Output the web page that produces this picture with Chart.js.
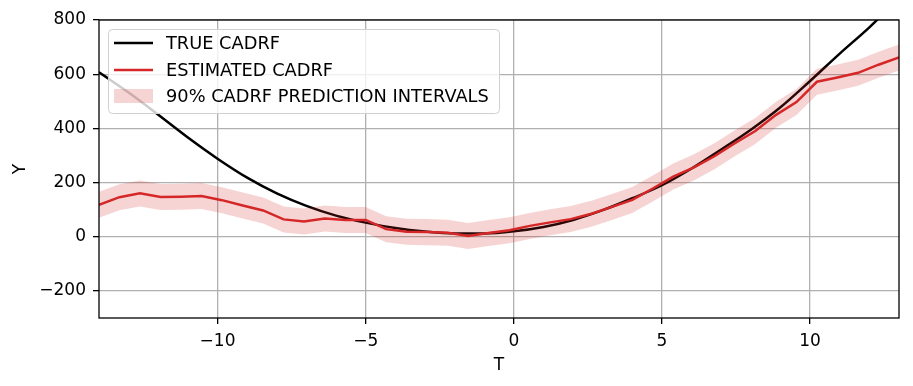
<!DOCTYPE html>
<html>
<head>
<meta charset="utf-8">
<script src="https://cdn.jsdelivr.net/npm/chart.js@4/dist/chart.umd.min.js"></script>
<style>
  html, body { margin: 0; padding: 0; background: #fff; }
  #box { width: 913px; height: 386px; }
</style>
</head>
<body>
<div id="box"><canvas id="chart"></canvas></div>
<script>
// grid of T where the estimate was evaluated (40 points, -14 .. 13)
const tGrid = [-14.00, -13.31, -12.62, -11.92, -11.23, -10.54, -9.85, -9.15, -8.46, -7.77,
  -7.08, -6.38, -5.69, -5.00, -4.31, -3.62, -2.92, -2.23, -1.54, -0.85,
  -0.15, 0.54, 1.23, 1.92, 2.62, 3.31, 4.00, 4.69, 5.38, 6.08,
  6.77, 7.46, 8.15, 8.85, 9.54, 10.23, 10.92, 11.62, 12.31, 13.00];
const estY = [118, 146, 160, 147, 148, 150, 135, 115, 97, 64,
  56, 67, 62, 62, 28, 18, 17, 15, 3, 14,
  24, 40, 53, 65, 85, 110, 136, 178, 222, 256,
  297, 345, 390, 450, 497, 572, 588, 605, 635, 662];
const bandUpper = [166, 194, 208, 195, 196, 198, 183, 163, 145, 112,
  104, 115, 110, 110, 76, 66, 65, 63, 51, 62,
  72, 88, 101, 113, 133, 158, 184, 226, 270, 304,
  345, 393, 438, 498, 545, 620, 636, 653, 683, 710];
const bandLower = [70, 98, 112, 99, 100, 102, 87, 67, 49, 16,
  8, 19, 14, 14, -20, -30, -31, -33, -45, -34,
  -24, -8, 5, 17, 37, 62, 88, 130, 174, 208,
  249, 297, 342, 402, 449, 524, 540, 557, 587, 614];

const trueT = [-14, -13, -12, -11, -10, -9, -8, -7, -6, -5, -4, -3, -2, -1,
  0, 1, 2, 3, 4, 5, 6, 7, 8, 9, 10, 11, 12, 13];
const trueY = [607, 532, 450, 366, 288, 218, 160, 114, 78, 52, 32, 19, 12, 12,
  20, 36, 62, 98, 142, 190, 252, 322, 395, 478, 575, 676, 773, 880];

const xTicks = [-10, -5, 0, 5, 10];
const yTicks = [-200, 0, 200, 400, 600, 800];
const seriesLabels = ["TRUE CADRF", "ESTIMATED CADRF", "90% CADRF PREDICTION INTERVALS"];

const RED = "#d62728";
const BAND = "rgba(214, 39, 40, 0.2)";
const FONT = "DejaVu Sans";
const FSIZE = 17;

const pts = (xs, ys) => xs.map((x, i) => ({ x: x, y: ys[i] }));
const fmt = v => (v < 0 ? "\u2212" + Math.abs(v) : String(v));

// black frame round the plot area, like the matplotlib spines
const frame = {
  id: "frame",
  afterDatasetsDraw(chart) {
    const { ctx, chartArea: a } = chart;
    ctx.save();
    ctx.strokeStyle = "#000";
    ctx.lineWidth = 1.3;
    ctx.strokeRect(a.left, a.top, a.right - a.left, a.bottom - a.top);
    ctx.restore();
  },
};

// legend box inside the upper left corner
const innerLegend = {
  id: "innerLegend",
  afterDraw(chart) {
    const ctx = chart.ctx;
    const ds = chart.data.datasets;
    const x0 = 108, y0 = 29, w = 391, h = 84;
    const rows = [43, 70, 96];
    ctx.save();
    ctx.beginPath();
    ctx.roundRect(x0 + 0.5, y0 + 0.5, w, h, 4);
    ctx.fillStyle = "rgba(255,255,255,0.8)";
    ctx.fill();
    ctx.strokeStyle = "#d0d0d0";
    ctx.lineWidth = 1;
    ctx.stroke();

    ctx.font = "17.8px '" + FONT + "'";
    ctx.textBaseline = "middle";
    ctx.fillStyle = "#000";
    [ds[0], ds[1]].forEach((d, i) => {
      ctx.beginPath();
      ctx.moveTo(114, rows[i]);
      ctx.lineTo(153, rows[i]);
      ctx.strokeStyle = d.borderColor;
      ctx.lineWidth = 2.5;
      ctx.stroke();
      ctx.fillText(d.label, 166, rows[i] + 1);
    });
    ctx.fillStyle = BAND;
    ctx.fillRect(114, rows[2] - 7, 39, 14);
    ctx.fillStyle = "#000";
    ctx.fillText(ds[2].label, 166, rows[2] + 1);
    ctx.restore();
  },
};

new Chart(document.getElementById("chart"), {
  type: "line",
  data: {
    datasets: [
      {
        label: seriesLabels[0],
        data: pts(trueT, trueY),
        borderColor: "#000",
        borderWidth: 2.5,
        pointRadius: 0,
        cubicInterpolationMode: "monotone",
        clip: 0,
        order: 3,
      },
      {
        label: seriesLabels[1],
        data: pts(tGrid, estY),
        borderColor: RED,
        borderWidth: 2.5,
        pointRadius: 0,
        tension: 0,
        clip: 0,
        order: 2,
      },
      {
        label: seriesLabels[2],
        data: pts(tGrid, bandUpper),
        borderWidth: 0,
        borderColor: "rgba(0,0,0,0)",
        backgroundColor: BAND,
        pointRadius: 0,
        fill: "+1",
        clip: 0,
        order: 1,
      },
      {
        label: "lower",
        data: pts(tGrid, bandLower),
        borderWidth: 0,
        borderColor: "rgba(0,0,0,0)",
        pointRadius: 0,
        fill: false,
        clip: 0,
        order: 1,
      },
    ],
  },
  options: {
    responsive: true,
    maintainAspectRatio: false,
    animation: false,
    events: [],
    layout: { padding: { top: 20, right: 14, left: 0, bottom: 0 } },
    plugins: {
      legend: { display: false },
      tooltip: { enabled: false },
    },
    scales: {
      x: {
        type: "linear",
        min: -14,
        max: 13,
        afterBuildTicks: s => { s.ticks = xTicks.map(v => ({ value: v })); },
        afterFit: s => { s.height = 68; },
        grid: { color: "#b0b0b0", lineWidth: 1.3, tickLength: 6, tickColor: "#000", tickWidth: 1.3 },
        border: { display: false },
        ticks: { color: "#000", padding: 7, maxRotation: 0, font: { family: FONT, size: FSIZE }, callback: fmt },
        title: { display: true, text: "T", color: "#000", padding: { top: 0, bottom: 10 }, font: { family: FONT, size: FSIZE } },
      },
      y: {
        min: -300,
        max: 800,
        afterBuildTicks: s => { s.ticks = yTicks.map(v => ({ value: v })); },
        afterFit: s => { s.width = 99; },
        grid: { color: "#b0b0b0", lineWidth: 1.3, tickLength: 6, tickColor: "#000", tickWidth: 1.3 },
        border: { display: false },
        ticks: { color: "#000", padding: 7, font: { family: FONT, size: FSIZE }, callback: fmt },
        title: { display: true, text: "Y", color: "#000", padding: { top: 10, bottom: 0 }, font: { family: FONT, size: FSIZE } },
      },
    },
  },
  plugins: [frame, innerLegend],
});
</script>
</body>
</html>
